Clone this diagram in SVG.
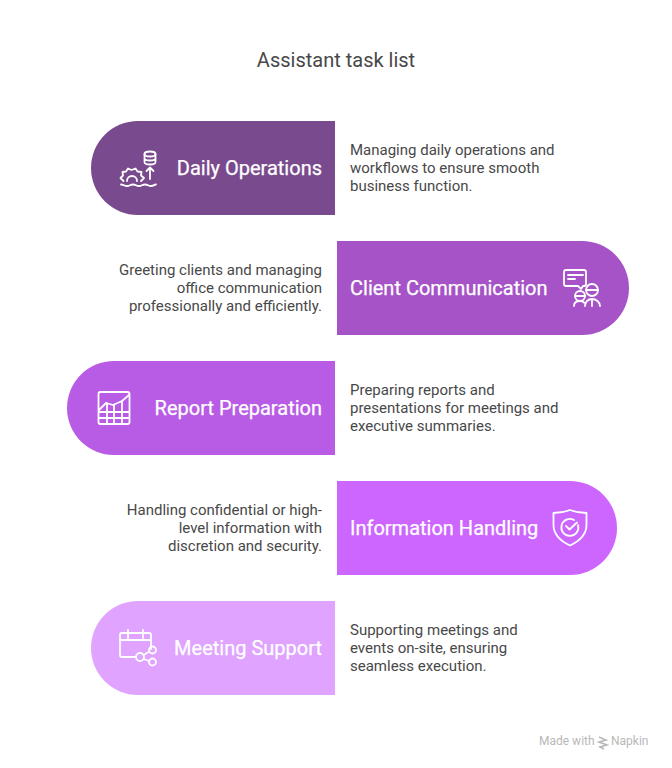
<svg xmlns="http://www.w3.org/2000/svg" width="672" height="768" viewBox="0 0 672 768">
<style>
text{font-family:Roboto,"Liberation Sans",sans-serif}
.t{font-size:20px;fill:#484848;text-anchor:middle}
.l{font-size:20px;fill:#fff;font-weight:400;stroke:#fff;stroke-width:.25px}
.d{font-size:15px;fill:#484848}
.i{fill:none;stroke:#fff;stroke-width:1.800;stroke-linecap:round;stroke-linejoin:round}
.w{font-size:12px;fill:#b8b8b8}
</style>
<rect width="672" height="768" fill="#fff"/>
<text class="t" x="336" y="67">Assistant task list</text>
<g id="connectors"/>
<g id="daily-operations">
<path d="M335 121H138a47 47 0 0 0 0 94H335Z" fill="#7a4a8e"/>
<g class="i">
<ellipse cx="150" cy="154" rx="5.500" ry="2.500"/>
<path d="M144.500 154v8c0 1.500 2.500 2.500 5.500 2.500s5.500-1 5.500-2.500v-8M144.500 158c0 1.500 2.500 2.500 5.500 2.500s5.500-1 5.500-2.500"/>
<path d="M150 179v-11M146.500 171l3.500-3.500 3.500 3.500"/>
<path d="M123.500 181l-3-3 2.500-2.500-.5-3.500 3.500-.5 2-3 3.500 1.500 4-1.500 2 3 4 .5-.5 3.500 3 2.500-3 3M127 181a5 5 0 0 1 10 0"/>
<path d="M121 184.500c3 0 3 1.500 6 1.500s3-1.500 6-1.500 3 1.500 6 1.500 3-1.500 6-1.500 3 1.500 6 1.500 3-1.500 5-1.500"/>
</g>
<text class="l" x="322" y="175" text-anchor="end">Daily Operations</text>
</g>
<text class="d" x="350" y="155">Managing daily operations and</text>
<text class="d" x="350" y="173">workflows to ensure smooth</text>
<text class="d" x="350" y="191">business function.</text>
<g id="client-communication">
<path d="M337 241H582a47 47 0 0 1 0 94H337Z" fill="#a653c7"/>
<g class="i">
<path d="M566 270h18a2 2 0 0 1 2 2v12a2 2 0 0 1-2 2h-1l-2 3-3-3h-12a2 2 0 0 1-2-2v-12a2 2 0 0 1 2-2Z"/>
<path d="M568 275h15M568 279h7"/>
<circle cx="592" cy="290" r="6"/><circle cx="580" cy="296" r="5"/>
<path d="M586 290h12M575 296h10"/>
<path d="M585 306c0-4 3-7 7-7s8 3 8 7M574 306c0-3 2-5 6-5 2 0 3 .5 4 1.500M592 300v6"/>
</g>
<text class="l" x="350" y="295">Client Communication</text>
</g>
<text class="d" x="322" y="275" text-anchor="end">Greeting clients and managing</text>
<text class="d" x="322" y="293" text-anchor="end">office communication</text>
<text class="d" x="322" y="311" text-anchor="end">professionally and efficiently.</text>
<g id="report-preparation">
<path d="M335 361H114a47 47 0 0 0 0 94H335Z" fill="#b95ce5"/>
<g class="i">
<rect x="98.500" y="392" width="31" height="32" rx="2"/>
<path d="M99 410l7-7 7 2 9-4 7-6M99 412h30M99 418h30M107 403v21M114 405v19M122 401v23"/>
</g>
<text class="l" x="322" y="415" text-anchor="end">Report Preparation</text>
</g>
<text class="d" x="350" y="395">Preparing reports and</text>
<text class="d" x="350" y="413">presentations for meetings and</text>
<text class="d" x="350" y="431">executive summaries.</text>
<g id="information-handling">
<path d="M337 481H570a47 47 0 0 1 0 94H337Z" fill="#cc66ff"/>
<g class="i">
<path d="M570 510c-5 2-11 3-16.500 3v12c0 10 7 16 16.500 20.500 9.500-4.500 16.500-10.500 16.500-20.500v-12c-5.500 0-11.500-1-16.500-3Z"/>
<path d="M574 520a8.500 8.500 0 1 0 4 5M566 526l3.500 3.500 7.500-7"/>
</g>
<text class="l" x="350" y="535">Information Handling</text>
</g>
<text class="d" x="322" y="515" text-anchor="end">Handling confidential or high-</text>
<text class="d" x="322" y="533" text-anchor="end">level information with</text>
<text class="d" x="322" y="551" text-anchor="end">discretion and security.</text>
<g id="meeting-support">
<path d="M335 601H138a47 47 0 0 0 0 94H335Z" fill="#e0a3ff"/>
<g class="i">
<path d="M136 657h-14a2 2 0 0 1-2-2v-20a2 2 0 0 1 2-2h27a2 2 0 0 1 2 2v14M120 640h31M128 630v8M143 630v8"/>
<circle cx="140" cy="657" r="4"/><circle cx="152.500" cy="650" r="3.500"/><circle cx="152.500" cy="662" r="3.500"/>
<path d="M143.500 655l6-3.500M143.500 659l6 2"/>
</g>
<text class="l" x="322" y="655" text-anchor="end">Meeting Support</text>
</g>
<text class="d" x="350" y="635">Supporting meetings and</text>
<text class="d" x="350" y="653">events on-site, ensuring</text>
<text class="d" x="350" y="671">seamless execution.</text>
<g id="watermark">
<text class="w" x="539" y="745">Made with</text>
<path d="M599 737l7 3-7 2 8 3-7 2 4 2" fill="none" stroke="#b8b8b8" stroke-width="1.600"/>
<text class="w" x="611" y="745">Napkin</text>
</g>
</svg>
